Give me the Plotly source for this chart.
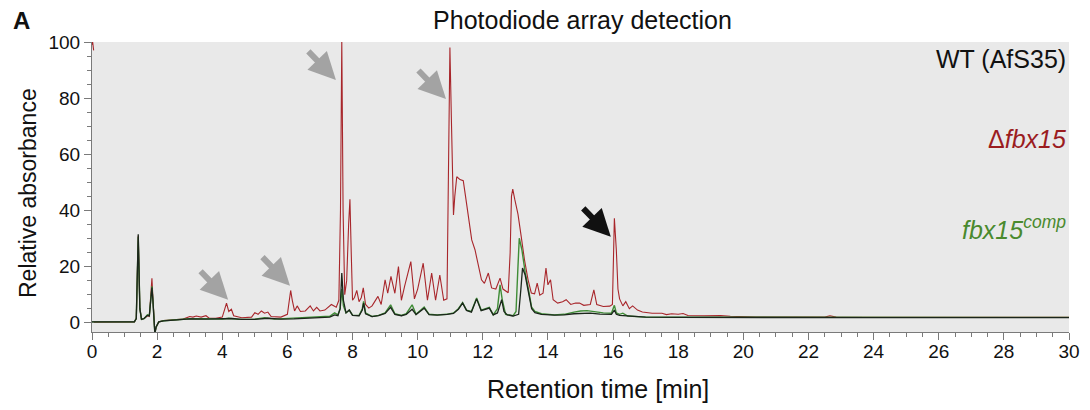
import plotly.graph_objects as go

# ---------------- data ----------------
# Δfbx15 (red)
red_t = [0.00, 0.02, 0.05, None,
         0.06, 1.30, 1.36, 1.42, 1.47, 1.52, 1.60, 1.70, 1.76, 1.80, 1.84, 1.87, 1.90, 1.93, 1.97,
         2.05, 2.20, 2.50, 2.80, 3.00, 3.10, 3.20, 3.35, 3.50, 3.60, 3.80, 4.00, 4.08, 4.13, 4.20,
         4.28, 4.35, 4.60, 4.90, 5.00, 5.10, 5.20, 5.30, 5.40, 5.50, 5.80, 6.00, 6.06, 6.10, 6.15,
         6.22, 6.30, 6.40, 6.55, 6.70, 6.80, 6.90, 7.00, 7.15, 7.35, 7.50, 7.58, 7.63, 7.67, 7.71,
         7.76, 7.82, 7.88, 7.92, 7.96, 8.00, 8.06, 8.13, 8.20, 8.27, 8.33, 8.40, 8.50, 8.60, 8.78,
         8.88, 9.00, 9.08, 9.18, 9.30, 9.41, 9.50, 9.60, 9.79, 9.90, 10.00, 10.17, 10.30, 10.43,
         10.55, 10.68, 10.80, 10.90, 10.95, 10.99, 11.04, 11.10, 11.14, 11.20, 11.30, 11.40, 11.47,
         11.55, 11.66, 11.76, 11.86, 11.96, 12.05, 12.17, 12.27, 12.40, 12.53, 12.62, 12.78,
         12.84, 12.88, 12.92, 12.98, 13.08, 13.18, 13.28, 13.39, 13.49, 13.59, 13.67, 13.75, 13.85,
         13.94, 14.00, 14.08, 14.16, 14.30, 14.45, 14.56, 14.70, 14.85, 14.97, 15.10, 15.30, 15.41,
         15.50, 15.70, 15.90, 15.98, 16.04, 16.10, 16.15, 16.20, 16.30, 16.39, 16.50, 16.60, 16.75,
         16.90, 17.20, 17.50, 17.64, 17.80, 18.00, 18.15, 18.30, 18.80, 19.30, 19.60, 20.40, 21.50,
         22.50, 22.66, 22.85, 24.00, 26.00, 28.00, 30.00]
red_y = [99.0, 100.0, 97.0, None,
         0.2, 0.3, 1.5, 31.0, 5.0, 1.2, 1.5, 2.5, 2.2, 10.0, 15.8, 9.0, 3.0, -3.8, -1.5,
         0.3, 0.8, 1.0, 1.3, 2.2, 2.0, 2.4, 2.0, 2.5, 1.6, 1.6, 2.0, 5.0, 7.0, 4.0,
         4.8, 2.5, 1.8, 2.0, 3.6, 3.0, 4.2, 3.4, 3.8, 2.2, 2.0, 3.0, 9.0, 11.5, 8.0,
         4.2, 6.0, 4.0, 4.2, 6.0, 4.2, 5.5, 4.2, 4.5, 6.5, 5.5, 8.0, 40.0, 100.5, 40.0,
         10.0, 15.0, 35.0, 44.0, 25.0, 8.0, 9.0, 11.5, 7.5, 9.0, 12.4, 6.5, 5.2, 6.0, 9.4,
         6.5, 15.3, 10.5, 16.5, 10.5, 20.0, 8.0, 13.0, 21.8, 8.5, 12.0, 21.2, 8.0, 17.7,
         8.0, 17.0, 8.0, 8.5, 60.0, 98.0, 70.0, 38.4, 45.0, 52.0, 51.0, 50.6, 45.0,
         37.8, 29.5, 26.0, 20.0, 15.3, 14.0, 17.7, 12.4, 12.0, 15.9, 12.0, 10.7,
         25.0, 45.0, 47.6, 44.0, 38.7, 30.7, 22.4, 15.3, 10.6, 10.3, 14.1, 9.8, 10.5,
         19.5, 13.5, 15.3, 8.2, 7.0, 7.5, 8.2, 6.5, 7.0, 7.0, 6.2, 6.5, 11.7,
         6.5, 5.8, 5.9, 6.5, 37.2, 26.0, 12.0, 8.5, 6.0, 7.5, 5.0, 6.0, 4.5,
         3.8, 3.4, 3.4, 2.9, 3.2, 3.0, 3.3, 2.6, 2.5, 2.6, 2.3, 2.0, 2.0,
         2.0, 2.5, 2.0, 1.9, 1.9, 1.9, 1.9]

# fbx15 comp (green)
green_t = [0.00, 1.30, 1.36, 1.42, 1.47, 1.52, 1.60, 1.70, 1.76, 1.80, 1.84, 1.87, 1.90, 1.93, 1.97,
           2.05, 2.20, 2.50, 3.00, 3.50, 4.00, 4.20, 4.50, 5.00, 5.30, 5.60, 6.00, 6.50, 7.00, 7.30,
           7.45, 7.55, 7.62, 7.67, 7.72, 7.80, 7.90, 8.00, 8.20, 8.30, 8.34, 8.40, 8.60, 8.80, 9.00,
           9.17, 9.30, 9.50, 9.65, 9.83, 9.95, 10.20, 10.35, 10.60, 10.90, 11.10, 11.25, 11.38, 11.50,
           11.65, 11.81, 11.95, 12.20, 12.32, 12.45, 12.53, 12.60, 12.70, 12.93, 13.02, 13.08, 13.12,
           13.20, 13.30, 13.40, 13.50, 13.60, 13.80, 14.20, 14.50, 14.80, 15.00, 15.20, 15.40, 15.70,
           15.95, 16.04, 16.10, 16.20, 16.30, 16.45, 17.00, 18.00, 20.00, 24.00, 30.00]
green_y = [0.3, 0.3, 1.5, 30.5, 5.0, 1.2, 1.5, 2.8, 2.5, 9.0, 13.0, 8.0, 3.0, -3.8, -1.5,
           0.3, 0.7, 1.0, 1.4, 1.4, 1.3, 1.6, 1.2, 1.3, 1.8, 1.3, 1.5, 1.7, 2.0, 2.3,
           3.5, 2.8, 5.0, 12.0, 6.0, 3.5, 4.5, 2.7, 2.6, 5.0, 7.6, 3.5, 2.2, 2.6, 3.5,
           6.4, 3.2, 2.6, 3.2, 6.4, 3.0, 5.6, 3.0, 2.8, 3.0, 3.5, 5.0, 7.2, 4.5,
           4.0, 8.8, 4.5, 5.5, 2.8, 5.0, 13.5, 8.0, 3.0, 2.5, 4.0, 20.0, 30.1,
           26.0, 18.0, 12.0, 5.5, 4.0, 3.2, 2.8, 3.0, 3.8, 4.2, 4.3, 4.0, 3.5,
           3.4, 6.2, 3.5, 3.0, 3.4, 2.4, 2.0, 2.0, 1.9, 1.9, 1.9]

# WT (AfS35) (black)
black_t = [0.00, 1.30, 1.36, 1.42, 1.47, 1.52, 1.60, 1.70, 1.76, 1.80, 1.84, 1.87, 1.90, 1.93, 1.97,
           2.05, 2.20, 2.50, 3.00, 3.50, 4.00, 4.30, 4.60, 5.00, 5.40, 5.80, 6.20, 6.60, 7.00, 7.30,
           7.45, 7.55, 7.62, 7.67, 7.72, 7.80, 7.90, 8.00, 8.20, 8.30, 8.34, 8.40, 8.60, 8.80, 9.00,
           9.17, 9.30, 9.50, 9.65, 9.83, 9.95, 10.20, 10.35, 10.60, 10.90, 11.10, 11.25, 11.38, 11.50,
           11.65, 11.81, 11.95, 12.20, 12.32, 12.45, 12.58, 12.65, 12.75, 12.93, 13.10, 13.17, 13.22,
           13.30, 13.40, 13.50, 13.60, 13.80, 14.20, 14.50, 14.80, 15.00, 15.30, 15.60, 15.95, 16.04,
           16.10, 16.20, 16.50, 17.00, 18.00, 20.00, 24.00, 30.00]
black_y = [0.3, 0.3, 1.5, 31.5, 5.0, 1.2, 1.5, 2.6, 2.5, 8.0, 12.5, 8.0, 3.0, -3.8, -1.5,
           0.3, 0.7, 1.0, 1.4, 1.3, 1.3, 1.5, 1.2, 1.2, 1.6, 1.3, 1.4, 1.6, 1.8, 2.0,
           2.8, 2.5, 5.0, 17.7, 8.0, 3.5, 4.5, 2.6, 2.5, 4.5, 7.0, 3.2, 2.2, 2.5, 3.3,
           5.5, 3.0, 2.5, 3.0, 4.8, 2.9, 5.2, 2.9, 2.7, 3.0, 3.3, 4.8, 7.0, 4.4,
           3.8, 8.5, 4.3, 5.2, 2.8, 3.5, 8.2, 4.0, 2.8, 2.4, 3.0, 12.0, 19.5,
           17.0, 11.0, 5.0, 3.6, 3.0, 2.7, 2.8, 3.2, 3.3, 3.4, 3.1, 3.0, 4.5,
           3.0, 2.6, 2.3, 2.0, 1.9, 1.8, 1.8, 1.8]

# arrow heads (time, absorbance) and colours
arrow_t = [4.18, 6.08, 7.49, 10.87, 15.93]
arrow_y = [8.2, 13.2, 86.5, 79.7, 30.6]
arrow_c = ["#a3a3a3", "#a3a3a3", "#a3a3a3", "#a3a3a3", "#111111"]

x_ticks = list(range(0, 31, 2))
y_ticks = [0, 20, 40, 60, 80, 100]

series_labels = ["WT (AfS35)", "Δ<i>fbx15</i>", "<i>fbx15<sup>comp</sup></i>"]

RED = "#a8262b"
GREEN = "#3f8c36"
BLACK = "#1b261b"
FONT = "Liberation Sans, Arial, sans-serif"

# plot-area geometry in pixels (for placing outside texts)
L, R, T, B = 92, 1069, 42, 332
PW, PH = R - L, B - T


def px_x(px):
    return (px - L) / PW


def px_y(py):
    return (B - py) / PH


fig = go.Figure()
fig.add_trace(go.Scatter(x=red_t, y=red_y, mode="lines", line=dict(color=RED, width=1.1),
                         connectgaps=False, showlegend=False))
fig.add_trace(go.Scatter(x=green_t, y=green_y, mode="lines", line=dict(color=GREEN, width=1.4),
                         showlegend=False))
fig.add_trace(go.Scatter(x=black_t, y=black_y, mode="lines", line=dict(color=BLACK, width=1.3),
                         showlegend=False))

for t, y, c in zip(arrow_t, arrow_y, arrow_c):
    fig.add_annotation(x=t, y=y, xref="x", yref="y", text="", showarrow=True,
                       ax=-29, ay=-30, arrowhead=2, arrowsize=0.9, arrowwidth=6,
                       arrowcolor=c)

# series labels at right
for txt, py, col in zip(series_labels, [59, 139, 228], ["#111111", "#9b1c1f", "#4a8a2e"]):
    fig.add_annotation(x=px_x(1068), y=px_y(py), xref="paper", yref="paper",
                       xanchor="right", yanchor="middle", text=txt, showarrow=False,
                       font=dict(family=FONT, size=25, color=col))

# panel letter
fig.add_annotation(x=px_x(11), y=px_y(20), xref="paper", yref="paper",
                   xanchor="left", yanchor="middle", text="<b>A</b>", showarrow=False,
                   font=dict(family=FONT, size=24, color="#111111"))

# axis titles
fig.add_annotation(x=px_x(28), y=px_y(193), xref="paper", yref="paper",
                   xanchor="center", yanchor="middle", textangle=-90,
                   text="Relative absorbance", showarrow=False,
                   font=dict(family=FONT, size=23, color="#111111"))
fig.add_annotation(x=px_x(598), y=px_y(389), xref="paper", yref="paper",
                   xanchor="center", yanchor="middle",
                   text="Retention time [min]", showarrow=False,
                   font=dict(family=FONT, size=25, color="#111111"))

fig.update_layout(
    width=1090, height=410,
    margin=dict(l=L, r=1090 - R, t=T, b=410 - B),
    paper_bgcolor="white", plot_bgcolor="#e9e9e9",
    font=dict(family=FONT, color="#111111"),
    title=dict(text="Photodiode array detection", x=(430 + 735) / 2 / 1090, xanchor="center",
               y=1 - 20 / 410, yanchor="middle", font=dict(family=FONT, size=25, color="#111111")),
    xaxis=dict(range=[0, 30], tickvals=x_ticks, ticktext=[str(v) for v in x_ticks],
               automargin=False, ticklabelstandoff=-5,
               showgrid=False, zeroline=False, showline=True, linecolor="#7a7a7a", linewidth=1,
               ticks="outside", ticklen=7, tickcolor="#7a7a7a",
               minor=dict(dtick=0.5, ticks="outside", ticklen=4, tickcolor="#7a7a7a", showgrid=False),
               tickfont=dict(family=FONT, size=19, color="#111111")),
    yaxis=dict(range=[-3.3, 100], tickvals=y_ticks, ticktext=[str(v) for v in y_ticks],
               automargin=False,
               showgrid=False, zeroline=False, showline=True, linecolor="#7a7a7a", linewidth=1,
               ticks="outside", ticklen=7, tickcolor="#7a7a7a",
               minor=dict(dtick=5, ticks="outside", ticklen=4, tickcolor="#7a7a7a", showgrid=False),
               tickfont=dict(family=FONT, size=19, color="#111111")),
)

fig.write_html("out.html", config={"displayModeBar": False},
               post_script="document.body.style.margin='0px';")
